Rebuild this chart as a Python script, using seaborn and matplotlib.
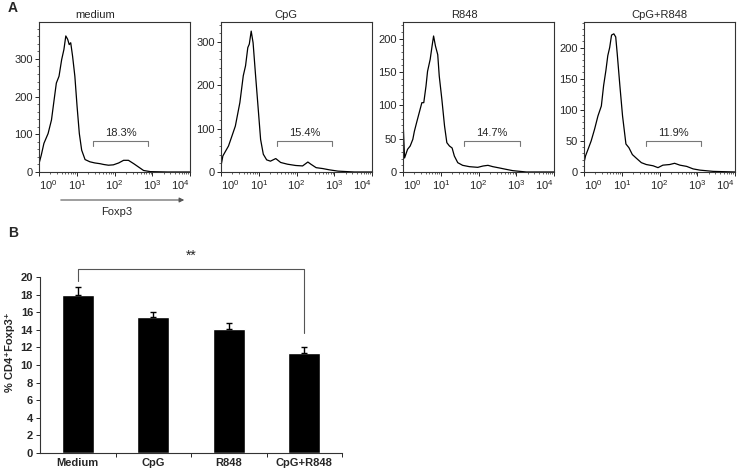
import numpy as np
import pandas as pd
import seaborn as sb
import matplotlib.pyplot as plt
import matplotlib.ticker as mticker

# panel A: Foxp3 histograms (intensity, event count)
medium_x = [1.0, 1.15, 1.35, 1.74, 2.14, 2.51, 2.88, 3.39, 3.98, 4.57, 5.13, 5.75, 6.31, 6.92, 7.76,
            8.91, 10.2, 11.7, 13.5, 16.6, 22.4, 30.2, 41.7, 51.3, 69.2, 93.3, 129, 174, 234, 324,
            437, 589, 891, 2512, 10000]
medium_y = [22, 45, 76, 102, 138, 191, 236, 254, 298, 325, 361, 352, 338, 343, 307,
            254, 174, 102, 58, 33, 27, 24, 22, 20, 18, 19, 24, 31, 31, 22,
            13, 4, 1, 0, 0]

cpg_x = [1.0, 1.12, 1.32, 1.58, 1.95, 2.40, 3.16, 3.89, 4.47, 5.13, 5.62, 6.31, 7.08, 8.13, 9.55,
         11.2, 13.2, 16.2, 20.4, 28.2, 38.0, 57.5, 95.5, 145, 200, 240, 331, 490, 741, 1259,
         3388, 10000]
cpg_y = [14, 37, 48, 60, 83, 106, 160, 222, 245, 287, 295, 325, 298, 229, 152,
         75, 41, 28, 25, 31, 22, 18, 15, 14, 23, 18, 10, 8, 5, 2,
         0, 0]

r848_x = [1.0, 1.0, 1.10, 1.32, 1.55, 1.82, 2.0, 2.29, 2.69, 3.16, 3.55, 4.07, 4.47, 5.25, 5.89,
          6.46, 7.24, 8.32, 9.12, 10.7, 12.6, 14.5, 17.0, 20.0, 22.9, 28.2, 38.0, 57.5, 95.5, 132,
          178, 240, 363, 537, 813, 1862, 10000]
r848_y = [0, 79, 21, 34, 39, 49, 61, 74, 89, 104, 104, 129, 151, 169, 189,
          204, 189, 176, 144, 109, 69, 44, 39, 36, 24, 14, 10, 8, 7, 9,
          10, 8, 6, 4, 2, 0, 0]

combo_x = [1.0, 1.10, 1.29, 1.55, 1.91, 2.34, 2.88, 3.31, 3.80, 4.27, 4.79, 5.37, 6.17, 6.92, 7.59,
           8.91, 10.5, 12.9, 15.5, 19.1, 24.5, 33.1, 44.7, 67.6, 91.2, 123, 186, 251, 347, 525,
           776, 1175, 2630, 10000]
combo_y = [15, 26, 37, 50, 69, 90, 106, 139, 163, 187, 200, 220, 222, 217, 190,
           139, 90, 45, 39, 28, 22, 15, 12, 10, 7, 11, 12, 14, 11, 9,
           5, 3, 1, 0]

hist_titles = ["medium", "CpG", "R848", "CpG+R848"]
gate_pct = ["18.3%", "15.4%", "14.7%", "11.9%"]
gate_lo = [27.5, 31, 42, 44]
gate_hi = [776, 890, 1230, 1230]
hist_ymax = [398, 346, 225, 241]
hist_ystep = [100, 100, 50, 50]
decades = [1, 10, 100, 1000, 10000]

# panel B: bar chart
groups = ["Medium", "CpG", "R848", "CpG+R848"]
pct_mean = [18.0, 15.5, 14.1, 11.4]
pct_err = [0.85, 0.55, 0.65, 0.7]

sb.set_style("ticks")
plt.rcParams['font.family'] = ['Liberation Sans', 'DejaVu Sans']
plt.rcParams['font.size'] = 8

W, H = 742, 475
fig = plt.figure(figsize=(W / 100, H / 100), dpi=100)

hist_data = [(medium_x, medium_y), (cpg_x, cpg_y), (r848_x, r848_y), (combo_x, combo_y)]
hist_left = [39, 221, 403, 584]
title_pos = [0.37, 0.43, 0.41, 0.5]

for i, (xs, ys) in enumerate(hist_data):
    ax = fig.add_axes([hist_left[i] / W, 1 - 172 / H, 151 / W, 150 / H])
    df = pd.DataFrame({"foxp3": xs, "count": ys})
    sb.lineplot(data=df, x="foxp3", y="count", sort=False, estimator=None,
                color="black", lw=0.9, ax=ax)
    ax.set_xscale("log")
    ax.set_xlim(1, 1e4)
    ax.set_ylim(0, hist_ymax[i])
    ax.set_xticks(decades)
    ax.xaxis.set_minor_locator(mticker.LogLocator(base=10, subs=np.arange(2, 10), numticks=20))
    ax.xaxis.set_minor_formatter(mticker.NullFormatter())
    ax.yaxis.set_major_locator(mticker.MultipleLocator(hist_ystep[i]))
    ax.yaxis.set_minor_locator(mticker.AutoMinorLocator(5))
    ax.set_xlabel("")
    ax.set_ylabel("")
    for s in ax.spines.values():
        s.set_linewidth(0.8)
        s.set_color("#333333")
    ax.tick_params(which="major", direction="out", length=3, width=0.7, labelsize=8, pad=1.5)
    ax.tick_params(which="minor", direction="out", length=1.5, width=0.5)
    xl = ax.get_xticklabels()
    xl[0].set_ha("left")
    xl[-1].set_ha("right")
    ax.text(title_pos[i], 1.015, hist_titles[i], transform=ax.transAxes,
            ha="center", va="bottom", fontsize=8)
    # gate bracket
    tr = ax.get_xaxis_transform()
    lo, hi = gate_lo[i], gate_hi[i]
    ax.plot([lo, lo, hi, hi], [0.175, 0.209, 0.209, 0.175], transform=tr,
            color="#777777", lw=0.8)
    ax.text(np.sqrt(lo * hi), 0.225, gate_pct[i], transform=tr,
            ha="center", va="bottom", fontsize=8)

fig.text(8 / W, 1 - 8 / H, "A", fontsize=10, fontweight="bold", va="center")
fig.text(8 / W, 1 - 233 / H, "B", fontsize=10, fontweight="bold", va="center")

# Foxp3 arrow under first panel
fig.add_artist(plt.Annotation("", xy=(187 / W, 1 - 200 / H), xytext=(58 / W, 1 - 200 / H),
                              xycoords="figure fraction", textcoords="figure fraction",
                              arrowprops=dict(arrowstyle="-|>", color="#555555", lw=0.8,
                                              mutation_scale=7)))
fig.text(117 / W, 1 - 212 / H, "Foxp3", ha="center", va="center", fontsize=8)

# bar chart
axb = fig.add_axes([40 / W, 1 - 452.7 / H, 302 / W, 201.7 / H])
df_b = pd.DataFrame({"group": groups, "pct": pct_mean})
sb.barplot(data=df_b, x="group", y="pct", color="black", saturation=1, width=0.43, ax=axb)
axb.errorbar(range(len(groups)), pct_mean, yerr=[np.zeros(len(groups)), pct_err],
             fmt="none", ecolor="black", elinewidth=1, capsize=2.5, capthick=1)
axb.set_xlim(-0.5, 3.5)
axb.set_ylim(0, 23)
axb.set_yticks(range(0, 21, 2))
axb.spines["top"].set_visible(False)
axb.spines["right"].set_visible(False)
axb.spines["left"].set_bounds(0, 20)
for s in ("left", "bottom"):
    axb.spines[s].set_linewidth(0.8)
    axb.spines[s].set_color("#333333")
axb.set_xticks([0.5, 1.5, 2.5, 3.5], minor=True)
axb.tick_params(axis="x", which="major", length=0, pad=4)
axb.tick_params(axis="x", which="minor", length=3, width=0.7, direction="out")
axb.tick_params(axis="y", length=3, width=0.7, direction="out", pad=2)
plt.setp(axb.get_xticklabels() + axb.get_yticklabels(), fontweight="bold", fontsize=8)
axb.set_xlabel("")
axb.set_ylabel("% CD4\u207aFoxp3\u207a", fontweight="bold", fontsize=8, labelpad=4)

# significance bracket
axb.plot([0, 0, 3, 3], [19.6, 20.9, 20.9, 13.6], color="#555555", lw=0.8)
axb.text(1.5, 22.4, "**", ha="center", va="center", fontsize=10)

fig.savefig("out.png", dpi=100)
